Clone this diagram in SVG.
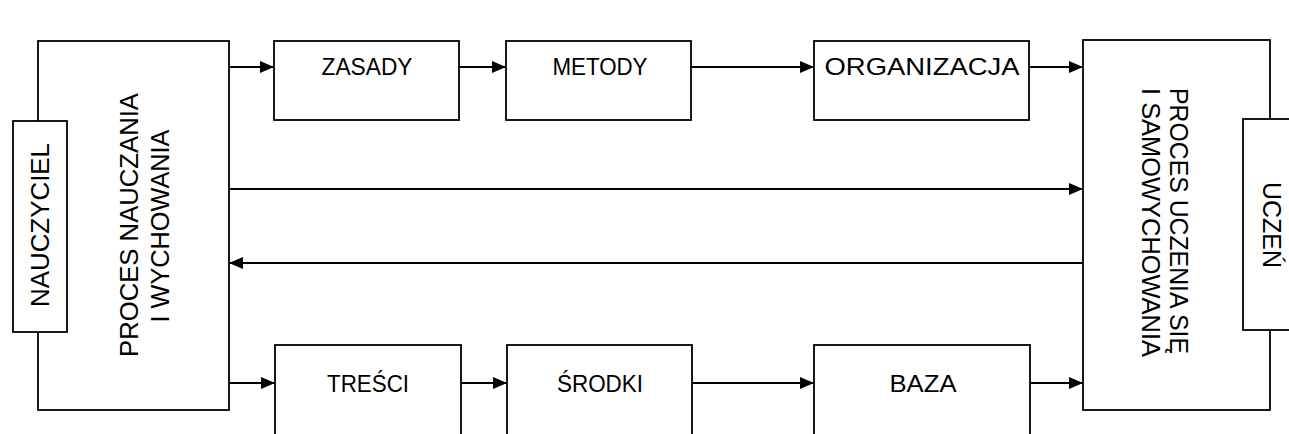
<svg xmlns="http://www.w3.org/2000/svg" width="1289" height="434" viewBox="0 0 1289 434">
  <defs>
    <marker id="arrow" viewBox="0 0 14 12" refX="14" refY="6" markerWidth="14" markerHeight="12" markerUnits="userSpaceOnUse" orient="auto">
      <path d="M0,0 L14,6 L0,12 Z" fill="#000"/>
    </marker>
    <style>
      .box { fill: #fff; stroke: #000; stroke-width: 1.8; }
      .lbl { font-family: "Liberation Sans", Arial, sans-serif; font-size: 24px; fill: #000; }
      .vlbl { font-family: "Liberation Sans", Arial, sans-serif; font-size: 25px; fill: #000; }
      .conn { fill: none; stroke: #000; stroke-width: 1.8; marker-end: url(#arrow); }
    </style>
  </defs>
  <rect width="1289" height="434" fill="#fff"/>

  <!-- teaching process (left) -->
  <g id="proces-nauczania">
    <rect class="box" x="38" y="41" width="191" height="369"/>
    <text class="vlbl" transform="translate(138,225) rotate(-90)" text-anchor="middle" textLength="264" lengthAdjust="spacingAndGlyphs">PROCES NAUCZANIA</text>
    <text class="vlbl" transform="translate(169,226) rotate(-90)" text-anchor="middle" textLength="193" lengthAdjust="spacingAndGlyphs">I WYCHOWANIA</text>
  </g>
  <g id="nauczyciel">
    <rect class="box" x="13" y="121" width="54" height="211"/>
    <text class="vlbl" transform="translate(49,225) rotate(-90)" text-anchor="middle" textLength="164" lengthAdjust="spacingAndGlyphs">NAUCZYCIEL</text>
  </g>

  <!-- learning process (right) -->
  <g id="proces-uczenia">
    <rect class="box" x="1083" y="40" width="187" height="370"/>
    <text class="vlbl" transform="translate(1170,88) rotate(90)" textLength="266" lengthAdjust="spacingAndGlyphs">PROCES UCZENIA SIĘ</text>
    <text class="vlbl" transform="translate(1142,88) rotate(90)" textLength="269" lengthAdjust="spacingAndGlyphs">I SAMOWYCHOWANIA</text>
  </g>
  <g id="uczen">
    <rect class="box" x="1243" y="119" width="60" height="211"/>
    <text class="vlbl" transform="translate(1263,225) rotate(90)" text-anchor="middle" textLength="86" lengthAdjust="spacingAndGlyphs">UCZEŃ</text>
  </g>

  <!-- upper chain -->
  <g id="zasady">
    <rect class="box" x="274" y="41" width="185" height="79"/>
    <text class="lbl" x="367" y="75" text-anchor="middle" textLength="91" lengthAdjust="spacingAndGlyphs">ZASADY</text>
  </g>
  <g id="metody">
    <rect class="box" x="506" y="41" width="185" height="79"/>
    <text class="lbl" x="600" y="75" text-anchor="middle" textLength="95" lengthAdjust="spacingAndGlyphs">METODY</text>
  </g>
  <g id="organizacja">
    <rect class="box" x="814" y="41" width="215" height="79"/>
    <text class="lbl" x="922" y="75" text-anchor="middle" textLength="195" lengthAdjust="spacingAndGlyphs">ORGANIZACJA</text>
  </g>

  <!-- lower chain -->
  <g id="tresci">
    <rect class="box" x="275" y="345" width="186" height="100"/>
    <text class="lbl" x="368" y="392" text-anchor="middle" textLength="82" lengthAdjust="spacingAndGlyphs">TREŚCI</text>
  </g>
  <g id="srodki">
    <rect class="box" x="507" y="345" width="185" height="100"/>
    <text class="lbl" x="600" y="392" text-anchor="middle" textLength="86" lengthAdjust="spacingAndGlyphs">ŚRODKI</text>
  </g>
  <g id="baza">
    <rect class="box" x="814" y="345" width="216" height="100"/>
    <text class="lbl" x="923" y="392" text-anchor="middle" textLength="67" lengthAdjust="spacingAndGlyphs">BAZA</text>
  </g>

  <!-- connectors -->
  <g id="connectors">
    <line class="conn" x1="229" y1="67" x2="274" y2="67"/>
    <line class="conn" x1="459" y1="67" x2="506" y2="67"/>
    <line class="conn" x1="691" y1="67" x2="814" y2="67"/>
    <line class="conn" x1="1029" y1="67" x2="1083" y2="67"/>

    <line class="conn" x1="229" y1="189" x2="1083" y2="189"/>
    <line class="conn" x1="1083" y1="263" x2="229" y2="263"/>

    <line class="conn" x1="229" y1="383" x2="275" y2="383"/>
    <line class="conn" x1="461" y1="383" x2="507" y2="383"/>
    <line class="conn" x1="692" y1="383" x2="814" y2="383"/>
    <line class="conn" x1="1030" y1="383" x2="1083" y2="383"/>
  </g>
</svg>
